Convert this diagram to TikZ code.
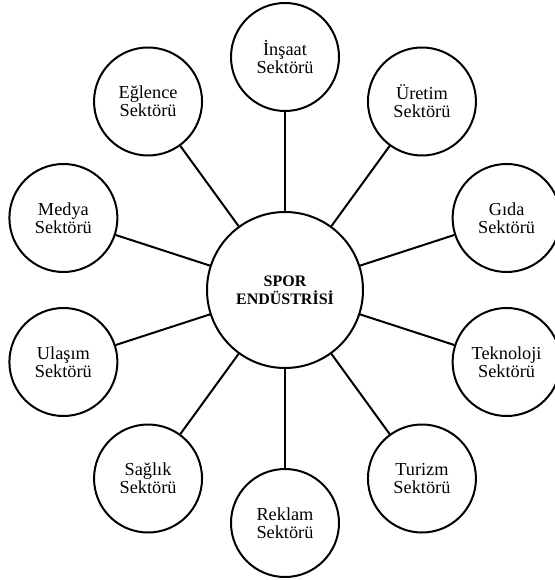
\documentclass[tikz,border=0pt]{standalone}
\usepackage{fontspec}
\setmainfont{Liberation Serif}
\usepackage{tikz}

\begin{document}
\begin{tikzpicture}[
		hub/.style={circle, draw=black, line width=2pt, minimum size=156pt, inner sep=0pt, align=center, font=\fontsize{16}{17.7}\selectfont\bfseries},
		sector/.style={circle, draw=black, line width=2pt, minimum size=108pt, inner sep=0pt, align=center, font=\fontsize{18.3}{18.3}\selectfont},
		link/.style={black, line width=2pt}
	]
			\def\rr{233pt}

			\useasboundingbox (-285pt,-290pt) rectangle (269pt,290pt);

			% centre
			\node[hub] (spor) at (0,0) {SPOR\\ENDÜSTRİSİ};

			% sectors, one every 36 degrees
			\node[sector] (insaat)    at (90:\rr)  {İnşaat\\Sektörü};
			\node[sector] (uretim)    at (54:\rr)  {Üretim\\Sektörü};
			\node[sector] (gida)      at (18:\rr)  {Gıda\\Sektörü};
			\node[sector] (teknoloji) at (-18:\rr) {Teknoloji\\Sektörü};
			\node[sector] (turizm)    at (-54:\rr) {Turizm\\Sektörü};
			\node[sector] (reklam)    at (-90:\rr) {Reklam\\Sektörü};
			\node[sector] (saglik)    at (234:\rr) {Sağlık\\Sektörü};
			\node[sector] (ulasim)    at (198:\rr) {Ulaşım\\Sektörü};
			\node[sector] (medya)     at (162:\rr) {Medya\\Sektörü};
			\node[sector] (eglence)   at (126:\rr) {Eğlence\\Sektörü};

			\draw[link] (spor) -- (insaat);
			\draw[link] (spor) -- (uretim);
			\draw[link] (spor) -- (gida);
			\draw[link] (spor) -- (teknoloji);
			\draw[link] (spor) -- (turizm);
			\draw[link] (spor) -- (reklam);
			\draw[link] (spor) -- (saglik);
			\draw[link] (spor) -- (ulasim);
			\draw[link] (spor) -- (medya);
			\draw[link] (spor) -- (eglence);
		\end{tikzpicture}
\end{document}
